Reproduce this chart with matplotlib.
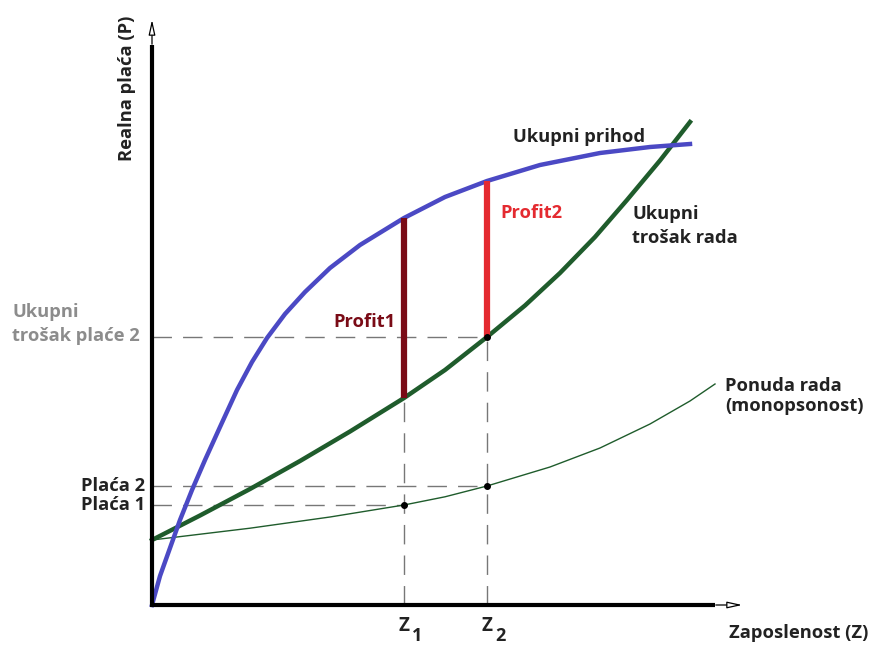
"""Monopsony labour market diagram: total revenue vs total labour cost."""

import matplotlib

matplotlib.use("Agg")
import matplotlib.pyplot as plt

plt.rcParams["font.family"] = ["Open Sans", "DejaVu Sans"]

# employment (Z) / real wage (P), in diagram units
rev_z = [0, 8, 18, 28, 40, 53, 68, 85, 100, 115, 133, 153, 178, 208, 252, 293, 335, 388, 448, 498, 538]
rev_p = [0, 29, 57, 85, 115, 145, 178, 215, 243, 267, 291, 313, 337, 360, 387, 408, 424, 440, 452, 458, 461]

cost_z = [0, 48, 98, 148, 198, 252, 293, 335, 373, 408, 443, 475, 508, 538]
cost_p = [65, 89.5, 116, 144, 173.5, 207, 235, 268, 299.5, 332, 368, 405, 444.5, 483]

supply_z = [0, 98, 178, 252, 293, 335, 398, 448, 498, 538, 563]
supply_p = [65, 76.8, 88, 100, 108.2, 119, 138, 157, 181, 204, 221]

Z1, Z2 = 252, 335
WAGE1, WAGE2 = 100, 119
COST2 = 268
PROFIT1 = (207, 387)
PROFIT2 = (268, 424)

BLUE = "#4B49C4"
GREEN = "#1F5C2C"
DARKRED = "#7A0B16"
RED = "#E42A30"
DASH = "#777777"
INK = "#222222"
FS = 13.2

fig = plt.figure(figsize=(8.69, 6.46), dpi=100)
ax = fig.add_axes([0, 0, 1, 1])
ax.set_xlim(-152, 717)
ax.set_ylim(-41, 605)
ax.axis("off")

# dashed guide lines
dash = dict(color=DASH, lw=1.0, dashes=(14, 8), zorder=1)
ax.plot([0, Z2], [COST2, COST2], **dash)
ax.plot([0, Z2], [WAGE2, WAGE2], **dash)
ax.plot([0, Z1], [WAGE1, WAGE1], **dash)
ax.plot([Z1, Z1], [0, PROFIT1[0]], **dash)
ax.plot([Z2, Z2], [0, PROFIT2[0]], **dash)

# curves
ax.plot(supply_z, supply_p, color=GREEN, lw=1.0, zorder=3)
ax.plot(cost_z, cost_p, color=GREEN, lw=3.2, zorder=3, solid_joinstyle="round")
ax.plot(rev_z, rev_p, color=BLUE, lw=3.2, zorder=4, solid_joinstyle="round")

# profit bars
ax.plot([Z1, Z1], PROFIT1, color=DARKRED, lw=4.5, zorder=5, solid_capstyle="butt")
ax.plot([Z2, Z2], PROFIT2, color=RED, lw=4.5, zorder=5, solid_capstyle="butt")

# points
ax.plot([Z1, Z2, Z2], [WAGE1, WAGE2, COST2], "o", color="black", ms=4, zorder=6)

# axes with hollow arrow heads
ax.plot([0, 0], [-2, 560], color="black", lw=3.0, zorder=7, solid_capstyle="butt")
ax.plot([-2, 563], [0, 0], color="black", lw=3.0, zorder=7, solid_capstyle="butt")
ax.annotate("", xy=(0, 588), xytext=(0, 558), zorder=8,
            arrowprops=dict(arrowstyle="-|>,head_length=0.9,head_width=0.2",
                            fc="white", ec="black", lw=0.9))
ax.annotate("", xy=(593, 0), xytext=(561, 0), zorder=8,
            arrowprops=dict(arrowstyle="-|>,head_length=0.9,head_width=0.2",
                            fc="white", ec="black", lw=0.9))

# labels
txt = dict(fontsize=FS, fontweight="bold", color=INK)
ax.text(361, 468, "Ukupni prihod", ha="left", va="center", **txt)
ax.text(480, 379, "Ukupni\ntrošak rada", ha="left", va="center", linespacing=1.4, **txt)
ax.text(573, 209, "Ponuda rada\n(monopsonost)", ha="left", va="center", linespacing=1.1, **txt)
ax.text(181, 283, "Profit1", ha="left", va="center", fontsize=FS, fontweight="bold", color=DARKRED)
ax.text(348, 392, "Profit2", ha="left", va="center", fontsize=FS, fontweight="bold", color=RED)
ax.text(-140, 281, "Ukupni\ntrošak plaće 2", ha="left", va="center", linespacing=1.4,
        fontsize=FS, fontweight="bold", color="#8C8C8C")
ax.text(-7, WAGE2, "Plaća 2", ha="right", va="center", **txt)
ax.text(-7, WAGE1, "Plaća 1", ha="right", va="center", **txt)
ax.text(-25, 517, "Realna plaća (P)", rotation=90, ha="center", va="center", **txt)
ax.text(716, -28, "Zaposlenost (Z)", ha="right", va="center", **txt)

for z, sub in [(Z1, "1"), (Z2, "2")]:
    ax.text(z, -21, "Z", ha="center", va="center", fontsize=13.5, fontweight="bold", color=INK)
    ax.text(z + 13, -31, sub, ha="center", va="center", fontsize=13, fontweight="bold", color=INK)

fig.savefig("out.png", dpi=100, facecolor="white")
